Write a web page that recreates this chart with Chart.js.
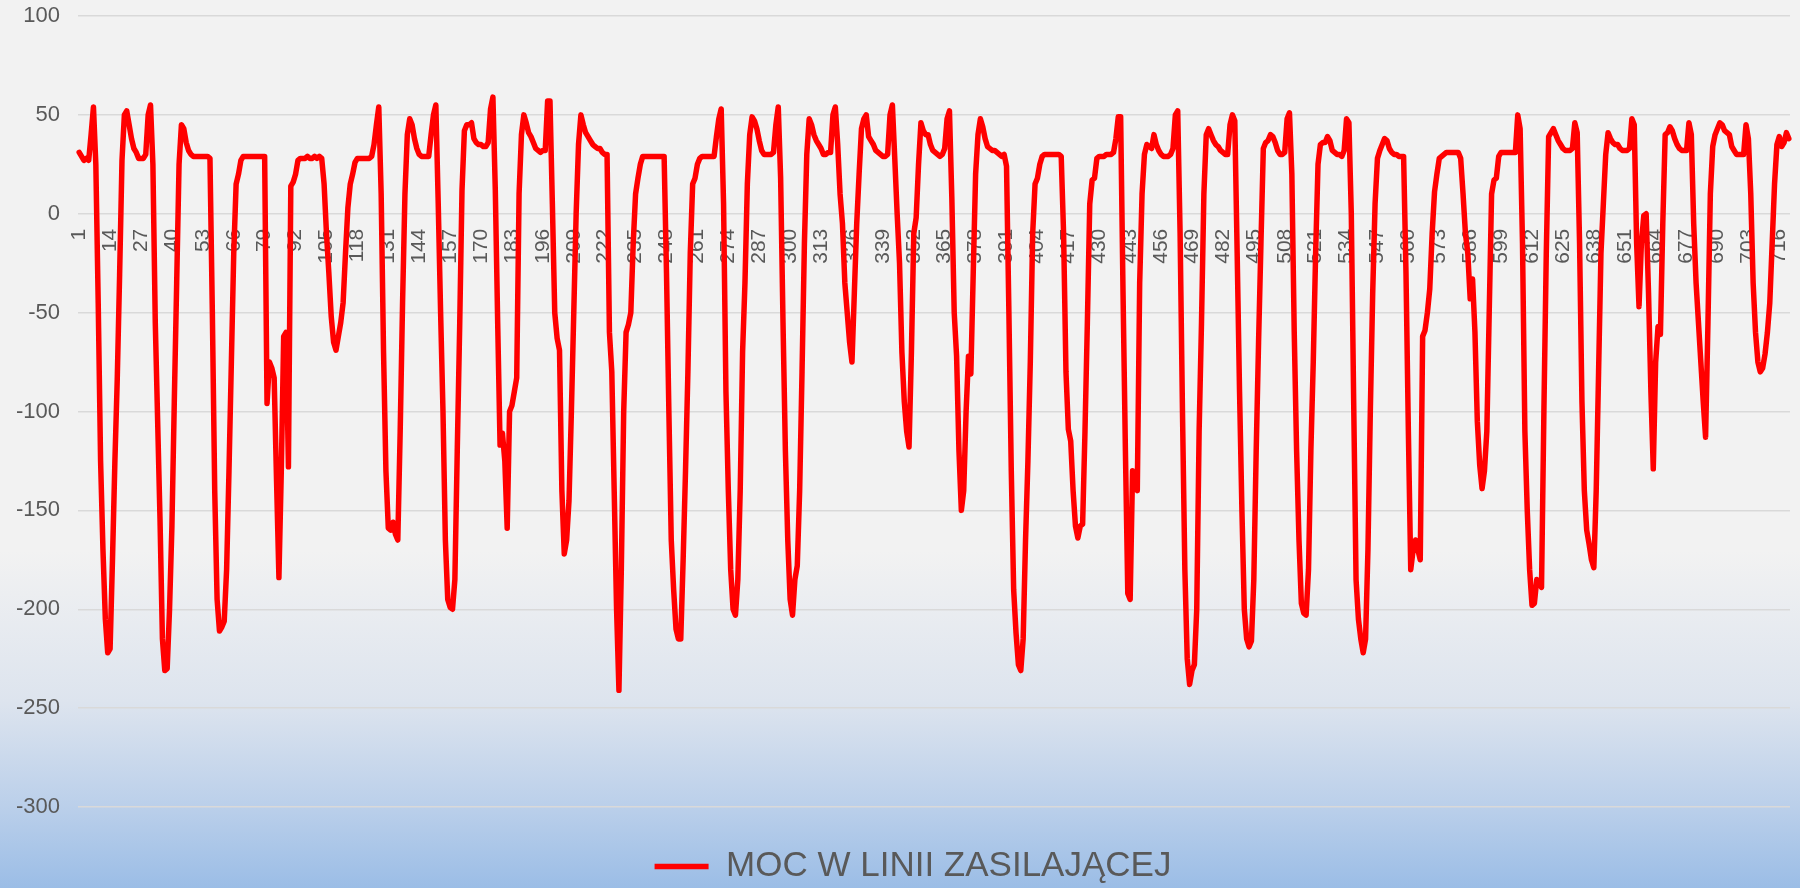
<!DOCTYPE html>
<html><head><meta charset="utf-8">
<script src="https://cdn.jsdelivr.net/npm/chart.js@4.4.0/dist/chart.umd.min.js"></script>
<style>html,body{margin:0;padding:0;background:#f2f2f2;overflow:hidden}</style>
</head><body>
<canvas id="c" width="1800" height="888"></canvas>
<script>
const seriesName = 'MOC W LINII ZASILAJĄCEJ';
const yTicks = [100, 50, 0, -50, -100, -150, -200, -250, -300];
const xTickLabels = [1,14,27,40,53,66,79,92,105,118,131,144,157,170,183,196,209,222,235,248,261,274,287,300,313,326,339,352,365,378,391,404,417,430,443,456,469,482,495,508,521,534,547,560,573,586,599,612,625,638,651,664,677,690,703,716];
const moc = [
31, 29, 27, 28, 27, 40, 54, 25, -45, -125,
-170, -205, -222, -220, -175, -126, -84, -31, 27, 50,
52, 45, 38, 33, 31, 28, 28, 28, 30, 50,
55, 25, -55, -105, -155, -215, -231, -230, -200, -158,
-95, -35, 25, 45, 43, 36, 32, 30, 29, 29,
29, 29, 29, 29, 29, 28, -50, -140, -195, -211,
-209, -206, -180, -130, -75, -20, 15, 20, 27, 29,
29, 29, 29, 29, 29, 29, 29, 29, 29, -96,
-75, -78, -83, -135, -184, -130, -62, -60, -128, 14,
16, 20, 27, 28, 28, 28, 29, 28, 28, 29,
28, 29, 28, 15, -10, -30, -52, -65, -69, -62,
-55, -45, -20, 3, 15, 20, 26, 28, 28, 28,
28, 28, 28, 29, 35, 45, 54, 10, -70, -130,
-159, -160, -156, -162, -165, -110, -45, 10, 40, 48,
45, 38, 33, 30, 29, 29, 29, 29, 40, 50,
55, 5, -50, -100, -165, -195, -199, -200, -185, -120,
-58, 12, 42, 45, 45, 46, 38, 36, 35, 35,
34, 34, 36, 53, 59, 12, -55, -117, -111, -125,
-159, -100, -97, -90, -83, 10, 40, 50, 46, 41,
39, 36, 33, 32, 31, 32, 32, 57, 57, 5,
-50, -63, -69, -140, -172, -165, -145, -100, -50, 0,
35, 50, 45, 41, 39, 37, 35, 34, 33, 33,
31, 30, 30, -60, -80, -140, -200, -241, -180, -100,
-60, -56, -50, -15, 10, 18, 25, 29, 29, 29,
29, 29, 29, 29, 29, 29, 29, -30, -100, -165,
-190, -210, -215, -215, -175, -130, -80, -20, 15, 18,
25, 28, 29, 29, 29, 29, 29, 29, 39, 48,
53, 5, -90, -140, -180, -200, -203, -185, -140, -70,
-35, 15, 40, 49, 47, 43, 37, 32, 30, 30,
30, 30, 31, 45, 54, 18, -55, -120, -165, -195,
-203, -185, -178, -140, -80, -15, 30, 48, 45, 40,
37, 35, 33, 30, 30, 31, 31, 50, 54, 35,
10, -5, -35, -50, -65, -75, -40, -5, 20, 43,
48, 50, 39, 37, 35, 32, 31, 30, 29, 29,
30, 50, 55, 28, 0, -25, -70, -95, -110, -118,
-70, -10, -2, 25, 46, 42, 40, 40, 35, 32,
31, 30, 29, 30, 33, 48, 52, 8, -50, -72,
-120, -150, -140, -100, -72, -81, -30, 20, 40, 48,
44, 38, 34, 33, 32, 32, 31, 30, 29, 30,
24, -50, -130, -190, -212, -228, -231, -215, -165, -125,
-75, -10, 15, 18, 25, 29, 30, 30, 30, 30,
30, 30, 30, 29, -10, -80, -109, -115, -140, -158,
-164, -158, -157, -110, -55, 5, 17, 18, 28, 29,
29, 29, 30, 30, 30, 31, 38, 49, 49, -40,
-120, -192, -195, -130, -135, -140, -35, 10, 30, 35,
34, 33, 40, 35, 32, 30, 29, 29, 29, 30,
33, 50, 52, -10, -100, -180, -225, -238, -231, -228,
-200, -110, -55, 10, 40, 43, 40, 37, 35, 34,
32, 31, 30, 30, 45, 50, 47, -20, -90, -150,
-200, -215, -219, -216, -185, -120, -65, -15, 33, 36,
37, 40, 39, 36, 32, 30, 30, 31, 48, 51,
20, -60, -120, -165, -197, -202, -203, -180, -120, -75,
-20, 25, 35, 36, 36, 39, 37, 32, 31, 30,
30, 29, 32, 48, 46, 0, -95, -185, -205, -215,
-222, -215, -170, -100, -40, 5, 28, 32, 35, 38,
37, 33, 31, 30, 30, 29, 29, 29, -30, -110,
-180, -170, -165, -170, -175, -62, -59, -50, -38, -10,
11, 20, 28, 29, 30, 31, 31, 31, 31, 31,
31, 28, 10, -10, -20, -43, -33, -60, -105, -127,
-139, -130, -110, -50, 10, 17, 18, 29, 31, 31,
31, 31, 31, 31, 31, 50, 43, -15, -110, -150,
-180, -198, -197, -185, -186, -189, -100, -20, 39, 41,
43, 40, 37, 35, 33, 32, 32, 32, 33, 46,
41, -15, -95, -140, -160, -167, -175, -179, -140, -80,
-20, 5, 30, 41, 38, 36, 35, 35, 33, 32,
32, 32, 33, 48, 45, -15, -47, -15, -1, 0,
-40, -90, -129, -75, -57, -61, -5, 40, 41, 44,
42, 38, 35, 33, 32, 32, 32, 46, 40, -5,
-35, -55, -75, -95, -113, -55, 10, 34, 40, 43,
46, 45, 42, 41, 40, 34, 32, 30, 30, 30,
30, 45, 38, 10, -35, -60, -75, -80, -78, -71,
-60, -45, -15, 15, 35, 39, 34, 36, 41, 38
];
const categories = moc.map((_, i) => String(i + 1));
const FONT = "'Liberation Sans', Arial, sans-serif";

const bgPlugin = {
  id: 'bg',
  beforeDraw(chart) {
    const {ctx, width, height} = chart;
    const g = ctx.createLinearGradient(0, 0, 0, height);
    g.addColorStop(0, '#f2f2f2');
    g.addColorStop(0.62, '#f2f2f2');
    g.addColorStop(0.79, '#dde4ee');
    g.addColorStop(0.91, '#bacfea');
    g.addColorStop(1, '#9bbde6');
    ctx.save();
    ctx.fillStyle = g;
    ctx.fillRect(0, 0, width, height);
    ctx.restore();
  }
};

// nudges the centred legend a little to the right, as in the original
const legendShift = {
  id: 'legendShift',
  afterLayout(chart) {
    const lg = chart.legend;
    if (lg) { lg.left += 18; lg.right += 18; }
  }
};

new Chart(document.getElementById('c'), {
  type: 'line',
  data: {
    labels: categories,
    datasets: [{
      label: seriesName,
      data: moc,
      borderColor: '#ff0000',
      backgroundColor: '#ff0000',
      borderWidth: 5.5,
      pointRadius: 0,
      tension: 0,
      borderJoinStyle: 'round',
      borderCapStyle: 'round',
      fill: false
    }]
  },
  options: {
    responsive: false,
    devicePixelRatio: 1,
    animation: false,
    layout: { padding: { left: 0, right: 10, top: 16, bottom: -6 } },
    plugins: {
      legend: {
        position: 'bottom',
        labels: {
          usePointStyle: true, pointStyle: 'line', pointStyleWidth: 54,
          padding: 42, color: '#595959',
          font: { family: FONT, size: 35 }
        }
      },
      tooltip: { enabled: false }
    },
    scales: {
      x: {
        type: 'category',
        position: { y: 0 },
        offset: true,
        grid: { display: false, drawTicks: false },
        border: { display: false },
        ticks: {
          autoSkip: false, maxRotation: 90, minRotation: 90, padding: 15,
          color: '#595959', font: { family: FONT, size: 21 },
          callback(v, i) { const lab = categories[i]; return xTickLabels.includes(Number(lab)) ? lab : ''; }
        },
        afterFit(s) { s.paddingLeft = 0; s.paddingRight = 0; }
      },
      y: {
        min: -300, max: 100,
        afterBuildTicks(s) { s.ticks = yTicks.map(v => ({ value: v })); },
        grid: { color: '#d9d9d9', lineWidth: 1.5, drawTicks: false },
        border: { display: false },
        ticks: {
          padding: 18, color: '#595959', font: { family: FONT, size: 22 },
          callback(v) { return String(v); }
        },
        afterFit(s) { s.width = 78; s.paddingTop = 0; s.paddingBottom = 0; }
      }
    }
  },
  plugins: [bgPlugin, legendShift]
});
</script></body></html>
